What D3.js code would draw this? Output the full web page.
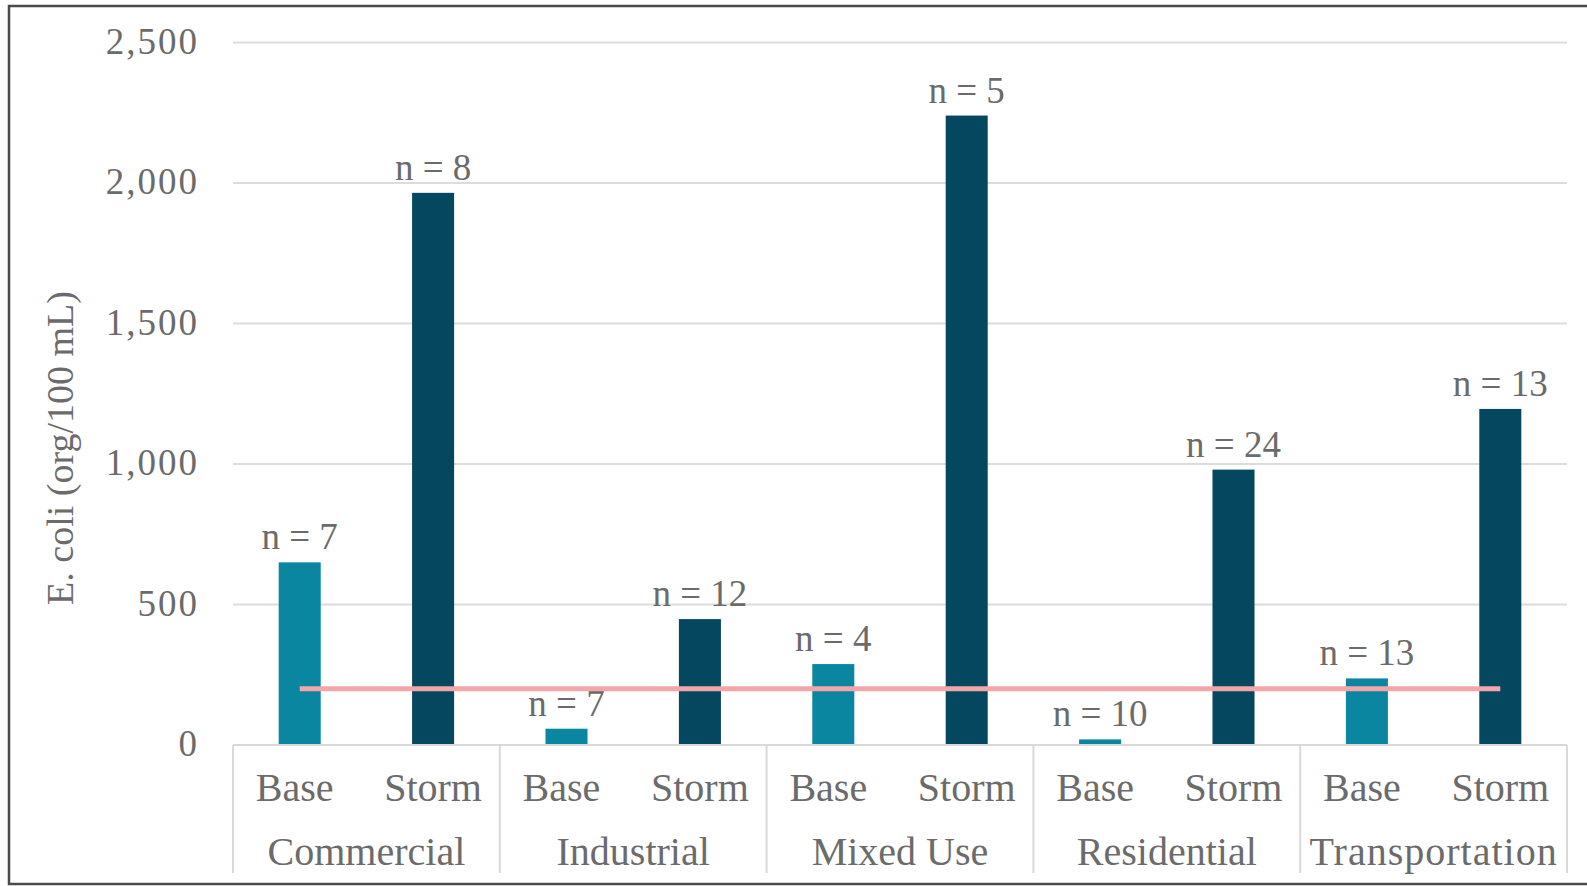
<!DOCTYPE html>
<html>
<head>
<meta charset="utf-8">
<script src="https://cdn.jsdelivr.net/npm/d3@7"></script>
<style>
  html, body { margin: 0; padding: 0; background: #fff; }
  svg { display: block; }
  text { font-family: "Liberation Serif", "DejaVu Serif", serif; fill: #6b6b6b; }
</style>
</head>
<body>
<svg id="chart" width="1587" height="886"></svg>
<script>
// ---- data ----
const categories = ["Commercial", "Industrial", "Mixed Use", "Residential", "Transportation"];
const conditions = ["Base", "Storm"];
const baseValues = [650, 58, 288, 20, 237];
const stormValues = [1965, 448, 2240, 980, 1196];
const baseN = [7, 7, 4, 10, 13];
const stormN = [8, 12, 5, 24, 13];
const yTicks = [0, 500, 1000, 1500, 2000, 2500];
const thresholdValue = 200;
const yTitle = "E. coli (org/100 mL)";

(function () {
// ---- build rows ----
const rows = [];
categories.forEach((c, i) => {
  rows.push({cat: c, cond: "Base", value: baseValues[i], n: baseN[i]});
  rows.push({cat: c, cond: "Storm", value: stormValues[i], n: stormN[i]});
});

const svg = d3.select("#chart");
const W = 1587;
const pLeft = 233, pRight = 1567, pTop = 42.5, pBottom = 745;

const x0 = d3.scaleBand().domain(categories).range([pLeft, pRight]).paddingInner(0).paddingOuter(0);
const x1 = d3.scaleBand().domain(conditions).range([0, x0.bandwidth()]).paddingInner(0.685).paddingOuter(0.3425);
const y = d3.scaleLinear().domain([0, 2500]).range([pBottom, pTop]);

const colors = {Base: "#0b86a1", Storm: "#04475f"};

// border
svg.append("rect")
  .attr("x", 9).attr("y", 6)
  .attr("width", W + 20).attr("height", 878)
  .attr("fill", "none").attr("stroke", "#4a4a4a").attr("stroke-width", 2.5);

// gridlines
svg.append("g").selectAll("line")
  .data(yTicks.filter(d => d > 0))
  .join("line")
  .attr("x1", pLeft).attr("x2", pRight)
  .attr("y1", d => y(d)).attr("y2", d => y(d))
  .attr("stroke", "#dcdcdc").attr("stroke-width", 2);

// y tick labels
svg.append("g").selectAll("text")
  .data(yTicks)
  .join("text")
  .attr("x", 199)
  .attr("y", d => y(d))
  .attr("dy", "0.3em")
  .attr("text-anchor", "end")
  .attr("font-size", 37)
  .attr("letter-spacing", 2)
  .text(d => d3.format(",")(d));

// y title
svg.append("text")
  .attr("transform", "translate(73,448) rotate(-90)")
  .attr("text-anchor", "middle")
  .attr("font-size", 38)
  .text(yTitle);

// bars
const g = svg.append("g");
g.selectAll("rect")
  .data(rows)
  .join("rect")
  .attr("x", d => x0(d.cat) + x1(d.cond))
  .attr("width", x1.bandwidth())
  .attr("y", d => y(d.value))
  .attr("height", d => y(0) - y(d.value))
  .attr("fill", d => colors[d.cond]);

// n labels
g.selectAll("text")
  .data(rows)
  .join("text")
  .attr("x", d => x0(d.cat) + x1(d.cond) + x1.bandwidth() / 2)
  .attr("y", d => y(d.value) - 13)
  .attr("text-anchor", "middle")
  .attr("font-size", 37)
  .text(d => "n = " + d.n);

// x axis baseline
svg.append("line")
  .attr("x1", pLeft).attr("x2", pRight)
  .attr("y1", y(0)).attr("y2", y(0))
  .attr("stroke", "#d9d9d9").attr("stroke-width", 2);

// category separators
const bounds = categories.map(c => x0(c)).concat([pRight]);
svg.append("g").selectAll("line")
  .data(bounds)
  .join("line")
  .attr("x1", d => d).attr("x2", d => d)
  .attr("y1", y(0)).attr("y2", 873)
  .attr("stroke", "#d9d9d9").attr("stroke-width", 2);

// sub labels
svg.append("g").selectAll("text")
  .data(rows)
  .join("text")
  .attr("x", d => x0(d.cat) + x1(d.cond) + x1.bandwidth() / 2 - (d.cond === "Base" ? 5 : 0))
  .attr("y", 801)
  .attr("text-anchor", "middle")
  .attr("font-size", 40)
  .text(d => d.cond);

// category labels
svg.append("g").selectAll("text")
  .data(categories)
  .join("text")
  .attr("x", d => x0(d) + x0.bandwidth() / 2)
  .attr("y", 865)
  .attr("text-anchor", "middle")
  .attr("font-size", 40)
  .attr("letter-spacing", d => d === "Transportation" ? 1 : 0)
  .text(d => d);

// threshold line
const first = rows[0], last = rows[rows.length - 1];
svg.append("line")
  .attr("x1", x0(first.cat) + x1(first.cond) + x1.bandwidth() / 2)
  .attr("x2", x0(last.cat) + x1(last.cond) + x1.bandwidth() / 2)
  .attr("y1", y(thresholdValue)).attr("y2", y(thresholdValue))
  .attr("stroke", "#f2a6aa").attr("stroke-width", 5);
})();
</script>
</body>
</html>
